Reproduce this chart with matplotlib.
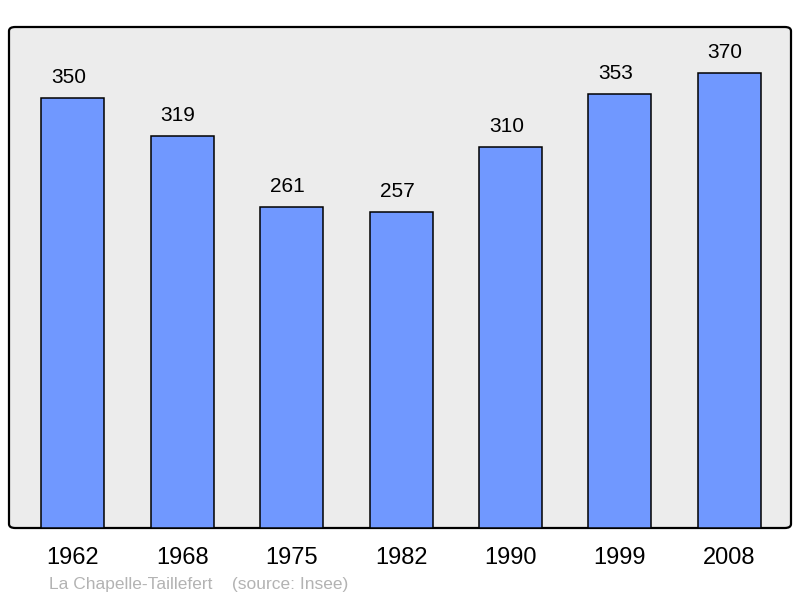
import matplotlib
matplotlib.use("Agg")
import matplotlib.pyplot as plt
from matplotlib.patches import FancyBboxPatch

years = ["1962", "1968", "1975", "1982", "1990", "1999", "2008"]
population = [350, 319, 261, 257, 310, 353, 370]
commune = "La Chapelle-Taillefert"
source = "(source: Insee)"

plt.rcParams['font.family'] = ['Liberation Sans', 'DejaVu Sans']

fig = plt.figure(figsize=(8, 5.98), dpi=100)
ax = fig.add_axes([9/800, 70/598, 782/800, 501/598])
ax.set_facecolor('none')

# rounded grey frame behind the bars
frame = FancyBboxPatch((0, 0), 1, 1, boxstyle="round,pad=0,rounding_size=0.008",
                       transform=ax.transAxes, facecolor='#ececec', edgecolor='black',
                       linewidth=1.6, zorder=0, clip_on=False)
ax.add_patch(frame)

x = range(len(years))
bars = ax.bar(x, population, width=0.576, color='#7098ff', edgecolor='black',
              linewidth=1.1, zorder=2)
for b, v in zip(bars, population):
    ax.annotate(str(v), (b.get_x() + b.get_width()/2, v), xytext=(-3, 11),
                textcoords='offset points', ha='center', va='baseline', fontsize=15)

ax.set_xlim(-0.585, 6.565)
ax.set_ylim(0, 407.6)
ax.set_xticks(list(x))
ax.set_xticklabels(years, fontsize=17)
ax.tick_params(axis='x', length=0, pad=14)
ax.set_yticks([])
for s in ax.spines.values():
    s.set_visible(False)

fig.text(49/800, 1 - 584/598, commune + "    " + source, color='#b3b3b3',
         fontsize=12.5, va='center', ha='left')

fig.savefig('out.png', dpi=100)
